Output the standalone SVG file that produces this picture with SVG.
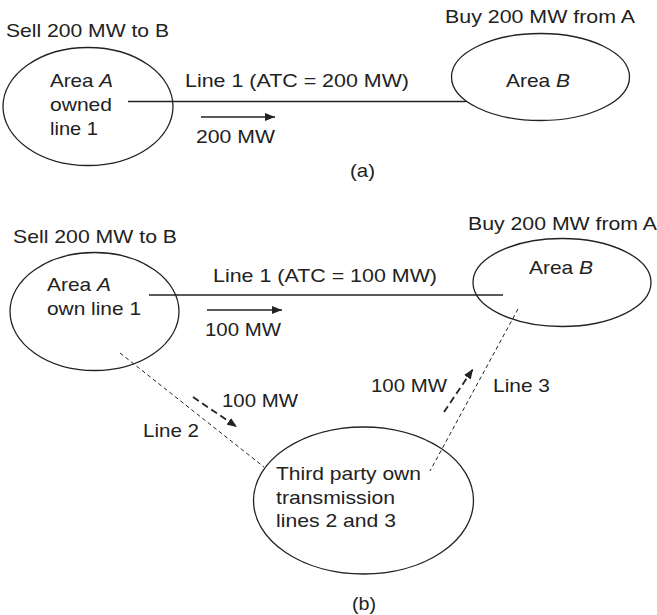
<svg xmlns="http://www.w3.org/2000/svg" width="657" height="615" viewBox="0 0 657 615">
<style>
text{font-family:"Liberation Sans",Arial,sans-serif;font-size:19px;fill:#222}
.node{fill:none;stroke:#222;stroke-width:1.3}
.line{stroke:#222;stroke-width:1.3;fill:none}
.flow{stroke:#222;stroke-width:1.6;fill:none}
.dash{stroke:#222;stroke-width:1;fill:none;stroke-dasharray:4 3}
.dflow{stroke:#222;stroke-width:1.8;fill:none;stroke-dasharray:7 4}
</style>
<defs>
<marker id="ah" viewBox="0 0 10 8" refX="10" refY="4" markerWidth="10" markerHeight="8" markerUnits="userSpaceOnUse" orient="auto"><path d="M0,0 L10,4 L0,8 z" fill="#222"/></marker>
</defs>
<rect width="657" height="615" fill="#fff"/>
<g id="connectors">
<line class="line" x1="128" y1="101.5" x2="466" y2="101.5"/>
<line class="flow" x1="201" y1="117" x2="275" y2="117" marker-end="url(#ah)"/>
<line class="line" x1="149" y1="295" x2="503" y2="295"/>
<line class="flow" x1="207" y1="310" x2="282" y2="310" marker-end="url(#ah)"/>
<line class="dash" x1="120" y1="353" x2="264" y2="467"/>
<line class="dflow" x1="193" y1="397" x2="237" y2="427" marker-end="url(#ah)"/>
<line class="dash" x1="518" y1="309" x2="430" y2="471"/>
<line class="dflow" x1="444" y1="412" x2="473" y2="369" marker-end="url(#ah)"/>
</g>
<g id="areaA-a">
<ellipse class="node" cx="88" cy="106.5" rx="85" ry="59"/>
<text x="50" y="87" textLength="63" lengthAdjust="spacingAndGlyphs">Area <tspan font-style="italic">A</tspan></text>
<text x="50" y="111" textLength="62" lengthAdjust="spacingAndGlyphs">owned</text>
<text x="50" y="135" textLength="48" lengthAdjust="spacingAndGlyphs">line 1</text>
</g>
<g id="areaB-a">
<ellipse class="node" cx="540.5" cy="77" rx="89" ry="43.5"/>
<text x="506" y="87" textLength="64" lengthAdjust="spacingAndGlyphs">Area <tspan font-style="italic">B</tspan></text>
</g>
<g id="labels-a">
<text x="6" y="37" textLength="163" lengthAdjust="spacingAndGlyphs">Sell 200 MW to B</text>
<text x="445" y="23" textLength="190" lengthAdjust="spacingAndGlyphs">Buy 200 MW from A</text>
<text x="185" y="87" textLength="224" lengthAdjust="spacingAndGlyphs">Line 1 (ATC = 200 MW)</text>
<text x="196" y="143" textLength="79" lengthAdjust="spacingAndGlyphs">200 MW</text>
<text x="350" y="177" textLength="25" lengthAdjust="spacingAndGlyphs">(a)</text>
</g>
<g id="areaA-b">
<ellipse class="node" cx="94.5" cy="311.5" rx="84.5" ry="59"/>
<text x="47" y="291" textLength="64" lengthAdjust="spacingAndGlyphs">Area <tspan font-style="italic">A</tspan></text>
<text x="47" y="315" textLength="94" lengthAdjust="spacingAndGlyphs">own line 1</text>
</g>
<g id="areaB-b">
<ellipse class="node" cx="562" cy="282.5" rx="89" ry="44"/>
<text x="529" y="274" textLength="64" lengthAdjust="spacingAndGlyphs">Area <tspan font-style="italic">B</tspan></text>
</g>
<g id="thirdparty">
<ellipse class="node" cx="363.5" cy="500.5" rx="110" ry="73.5"/>
<text x="276" y="480" textLength="145" lengthAdjust="spacingAndGlyphs">Third party own</text>
<text x="276" y="504" textLength="119" lengthAdjust="spacingAndGlyphs">transmission</text>
<text x="276" y="527" textLength="120" lengthAdjust="spacingAndGlyphs">lines 2 and 3</text>
</g>
<g id="labels-b">
<text x="13" y="243" textLength="164" lengthAdjust="spacingAndGlyphs">Sell 200 MW to B</text>
<text x="468" y="230" textLength="189" lengthAdjust="spacingAndGlyphs">Buy 200 MW from A</text>
<text x="213" y="282" textLength="224" lengthAdjust="spacingAndGlyphs">Line 1 (ATC = 100 MW)</text>
<text x="205" y="336" textLength="76" lengthAdjust="spacingAndGlyphs">100 MW</text>
<text x="222" y="407" textLength="76" lengthAdjust="spacingAndGlyphs">100 MW</text>
<text x="143" y="437" textLength="56" lengthAdjust="spacingAndGlyphs">Line 2</text>
<text x="371" y="392" textLength="76" lengthAdjust="spacingAndGlyphs">100 MW</text>
<text x="493" y="392" textLength="57" lengthAdjust="spacingAndGlyphs">Line 3</text>
<text x="352" y="610" textLength="24" lengthAdjust="spacingAndGlyphs">(b)</text>
</g>
</svg>
